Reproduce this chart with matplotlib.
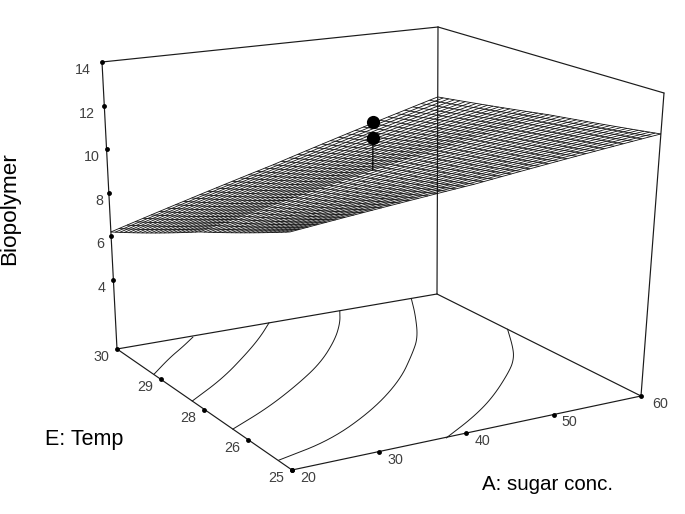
import numpy as np
import matplotlib
matplotlib.use("Agg")
import matplotlib.pyplot as plt
from matplotlib.collections import LineCollection

plt.rcParams["font.family"] = ["Liberation Sans", "DejaVu Sans"]

# axis ranges and ticks, in data units
a_range = (20, 60)
e_range = (25, 30)
z_range = (0.83, 14)
a_ticks = [20, 30, 40, 50, 60]
e_ticks = [30, 28.75, 27.5, 26.25, 25]
e_labels = ["30", "29", "28", "26", "25"]
z_ticks = [14, 12, 10, 8, 6, 4]

# fitted surface at a coarse grid (rows: E, cols: A)
surf_a = [20, 40, 60]
surf_e = [25, 27.5, 30]
surf_z = [[10.05, 11.02, 12.22],
          [8.29, 9.95, 11.47],
          [6.2, 8.28, 10.55]]

# design points, stacked at the centre point
point_a = [40, 40]
point_e = [27.5, 27.5]
point_z = [12.06, 11.36]

# contours on the floor
contour_a = [
    [20.1, 23.9, 26.8, 29.3],
    [20.0, 26.1, 32.1, 35.9, 39.0],
    [20.0, 26.0, 32.0, 37.5, 42.5, 45.8, 47.8],
    [20.1, 27.3, 35.2, 42.1, 47.5, 50.6, 54.2, 56.7],
    [37.6, 42.9, 47.6, 53.3, 55.6, 57.4, 60.0],
]
contour_e = [
    [28.96, 29.40, 29.69, 29.96],
    [27.85, 28.41, 29.10, 29.57, 30.00],
    [26.69, 27.15, 27.72, 28.31, 29.01, 29.57, 29.99],
    [25.40, 25.70, 26.40, 27.22, 28.06, 28.58, 29.38, 29.98],
    [24.98, 25.48, 26.02, 26.82, 27.21, 27.61, 28.27],
]

# where the corners of the box land on the page (view of the cube)
floor_view = np.array([[292, 470], [641, 396], [117, 349], [437, 294]], float)
top_view = np.array([[289, 130], [664, 93], [102, 62], [438, 27]], float)

INK = "#1a1a1a"
GREY = "#404040"


def project(a, e, z):
    """maps data values to page position, trilinear between the box corners"""
    u = (np.asarray(a, float) - a_range[0]) / (a_range[1] - a_range[0])
    v = (np.asarray(e, float) - e_range[0]) / (e_range[1] - e_range[0])
    w = (np.asarray(z, float) - z_range[0]) / (z_range[1] - z_range[0])
    out = []
    for i in range(2):
        low = (1-u)*(1-v)*floor_view[0, i] + u*(1-v)*floor_view[1, i] + (1-u)*v*floor_view[2, i] + u*v*floor_view[3, i]
        high = (1-u)*(1-v)*top_view[0, i] + u*(1-v)*top_view[1, i] + (1-u)*v*top_view[2, i] + u*v*top_view[3, i]
        out.append(low + w * (high - low))
    return out[0], out[1]


def surface(a, e):
    """mesh height, only to subdivide the coarse table for the wireframe"""
    by_e = np.array([np.interp(a, surf_a, row) for row in surf_z])
    return np.interp(e, surf_e, by_e)


def round_corners(x, y, passes=3):
    """corner cutting so the read contour points draw as a smooth line"""
    pts = np.column_stack([x, y])
    for _ in range(passes):
        q = 0.75 * pts[:-1] + 0.25 * pts[1:]
        r = 0.25 * pts[:-1] + 0.75 * pts[1:]
        mid = np.empty((2 * len(q), 2))
        mid[0::2] = q
        mid[1::2] = r
        pts = np.vstack([pts[:1], mid, pts[-1:]])
    return pts[:, 0], pts[:, 1]


fig = plt.figure(figsize=(6.85, 5.14), dpi=100)
ax = fig.add_axes([0, 0, 1, 1])
ax.set_xlim(0, 685)
ax.set_ylim(514, 0)
ax.axis("off")

# box edges
z_low, z_high = z_range
a0, a1 = a_range
e0, e1 = e_range
edges = [
    ((a0, e0, z_low), (a1, e0, z_low)),
    ((a0, e0, z_low), (a0, e1, z_low)),
    ((a0, e1, z_low), (a1, e1, z_low)),
    ((a1, e0, z_low), (a1, e1, z_low)),
    ((a0, e1, z_low), (a0, e1, z_high)),
    ((a1, e1, z_low), (a1, e1, z_high)),
    ((a1, e0, z_low), (a1, e0, z_high)),
    ((a0, e1, z_high), (a1, e1, z_high)),
    ((a1, e1, z_high), (a1, e0, z_high)),
]
for p, q in edges:
    x, y = project(*zip(p, q))
    ax.plot(x, y, color=INK, lw=0.85, solid_capstyle="round", zorder=2)

# contours
for ca, ce in zip(contour_a, contour_e):
    x, y = project(ca, ce, np.full(len(ca), z_low))
    ax.plot(*round_corners(x, y), color=INK, lw=0.7, zorder=2)

# wireframe
n_mesh = 41
mesh_a = np.linspace(a0, a1, n_mesh)
mesh_e = np.linspace(e0, e1, n_mesh)
segs = []
for e in mesh_e:
    x, y = project(mesh_a, np.full(n_mesh, e), [surface(a, e) for a in mesh_a])
    segs.append(np.column_stack([x, y]))
for a in mesh_a:
    x, y = project(np.full(n_mesh, a), mesh_e, [surface(a, e) for e in mesh_e])
    segs.append(np.column_stack([x, y]))
ax.add_collection(LineCollection(segs, colors="#111111", linewidths=0.6, zorder=3))

# design points and their stem
x, y = project(point_a, point_e, point_z)
sx, sy = project([point_a[1], point_a[1]], [point_e[1], point_e[1]], [point_z[1], surface(point_a[1], point_e[1])])
ax.plot(sx, sy, color="black", lw=0.9, zorder=4)
ax.plot(x, y, "o", color="black", ms=9.5, mew=0, zorder=5)

# ticks
tick_style = dict(marker="o", color="black", ms=3.5, mew=0, ls="none", zorder=4)
text_style = dict(fontsize=10.3, color=GREY, ha="center", va="center")

for z, dx in zip(z_ticks, [-19, -17, -15, -10, -11, -12]):
    x, y = project(a0, e1, z)
    ax.plot([x], [y], **tick_style)
    ax.text(x + dx, y + 8, str(z), **text_style)

for e, label in zip(e_ticks, e_labels):
    x, y = project(a0, e, z_low)
    ax.plot([x], [y], **tick_style)
    ax.text(x - 16, y + 8, label, **text_style)

for a in a_ticks:
    x, y = project(a, e0, z_low)
    ax.plot([x], [y], **tick_style)
    ax.text(x + (19 if a == 60 else 16), y + 8, str(a), **text_style)

# axis titles
ax.text(10, 208.5, "Biopolymer", fontsize=16.2, rotation=90, ha="center", va="center", color="black")
ax.text(84.5, 439, "E: Temp", fontsize=15.5, ha="center", va="center", color="black")
ax.text(547.5, 484, "A: sugar conc.", fontsize=14.8, ha="center", va="center", color="black")

fig.savefig("out.png", dpi=100)
